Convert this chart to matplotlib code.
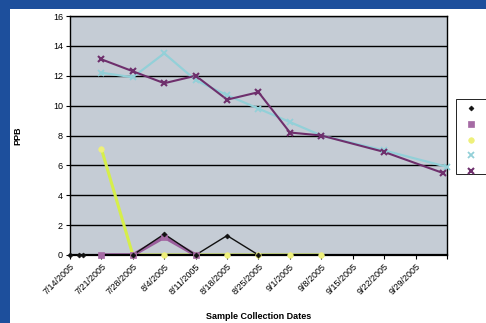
import datetime as dt
import matplotlib
matplotlib.use("Agg")
import matplotlib.pyplot as plt
from matplotlib.patches import Rectangle

plt.rcParams['font.family'] = ['Liberation Sans', 'DejaVu Sans']


def d(s):
    return dt.datetime.strptime(s + "/2005", "%m/%d/%Y")


# weekly sample results (ppb)
s1_dates = ["7/14", "7/16", "7/17", "7/28", "8/4", "8/11", "8/18", "8/25"]
s1_vals = [0, 0, 0, 0, 1.4, 0, 1.3, 0]

s2_dates = ["7/21", "7/28", "8/4", "8/11"]
s2_vals = [0, 0, 1.2, 0]

s3_dates = ["7/21", "7/28", "8/4", "8/11", "8/18", "8/25", "9/1", "9/8"]
s3_vals = [7.1, 0, 0, 0, 0, 0, 0, 0]

s4_dates = ["7/21", "7/28", "8/4", "8/11", "8/18", "8/25", "9/1", "9/8", "9/22", "10/6"]
s4_vals = [12.2, 11.9, 13.5, 11.7, 10.7, 9.8, 8.9, 8.0, 7.0, 5.9]

s5_dates = ["7/21", "7/28", "8/4", "8/11", "8/18", "8/25", "9/1", "9/8", "9/22", "10/5"]
s5_vals = [13.1, 12.3, 11.5, 12.0, 10.4, 10.9, 8.2, 8.0, 6.9, 5.5]

week_ticks = ["7/14", "7/21", "7/28", "8/4", "8/11", "8/18", "8/25",
              "9/1", "9/8", "9/15", "9/22", "9/29", "10/6"]

fig = plt.figure(figsize=(4.86, 3.23), dpi=100)
fig.patch.set_facecolor("#1d4f9c")
# white slide panel inside the blue frame
fig.patches.append(Rectangle((10 / 486, 0), 1, 1 - 9 / 323,
                             transform=fig.transFigure, facecolor="white",
                             edgecolor="none", zorder=-5))

ax = fig.add_axes([70 / 486, 68 / 323, 377 / 486, 239 / 323])
ax.set_facecolor("#c5ccd5")

# (dates, values, line colour, line width, marker, marker size, marker colour, edge width)
series = [
    (s3_dates, s3_vals, "#d6ee4a", 2.2, "o", 4, "#eef07a", 0.5),
    (s2_dates, s2_vals, "#9a5e9c", 2.6, "s", 4, "#a56aa4", 0.5),
    (s1_dates, s1_vals, "#111111", 1.0, "D", 2.5, "#111111", 0.5),
    (s4_dates, s4_vals, "#93d0d8", 1.6, "x", 5, "#93d0d8", 1.3),
    (s5_dates, s5_vals, "#6e2f6c", 1.5, "x", 5, "#6e2f6c", 1.5),
]
handles = []
for i, (dates, vals, c, lw, m, ms, mc, mew) in enumerate(series):
    x = [d(s) for s in dates]
    ax.plot(x, vals, color=c, lw=lw, zorder=3 + i * 0.1)
    h, = ax.plot(x, vals, ls="none", marker=m, ms=ms, mfc=mc, mec=mc, mew=mew,
                 zorder=5 + i * 0.1, clip_on=False)
    handles.append(h)

ax.set_ylim(0, 16)
ax.set_yticks(range(0, 17, 2))
ax.grid(axis="y", color="black", lw=1)
ax.set_axisbelow(True)

ax.set_xlim(d("7/14"), d("10/6"))
ax.set_xticks([d(x) for x in week_ticks])
ax.set_xticklabels([x + "/2005" for x in week_ticks[:-1]] + [""],
                   rotation=45, ha="right", rotation_mode="anchor")

for sp in ax.spines.values():
    sp.set_color("black")
    sp.set_linewidth(1)
    sp.set_zorder(4)
ax.spines["bottom"].set_linewidth(1.6)
ax.tick_params(labelsize=6.5, length=3, width=0.8, pad=2)

ax.set_ylabel("PPB", fontsize=6.5, fontweight="bold", labelpad=22)
ax.set_xlabel("Sample Collection Dates", fontsize=6.5, fontweight="bold", labelpad=11)

# legend box runs off the right edge, only the markers show
fig.patches.append(Rectangle((456 / 486, 1 - 174 / 323), 0.2, 75 / 323,
                             transform=fig.transFigure, facecolor="white",
                             edgecolor="black", lw=0.6, zorder=2))
order = [handles[2], handles[1], handles[0], handles[3], handles[4]]
leg = fig.legend(order, [""] * 5, loc="upper left",
                 bbox_to_anchor=(460 / 486, 1 - 97 / 323), frameon=False,
                 handlelength=0.6, borderpad=0.5, labelspacing=0.95,
                 fontsize=6)
leg.set_zorder(3)

fig.savefig("out.png", dpi=100)
